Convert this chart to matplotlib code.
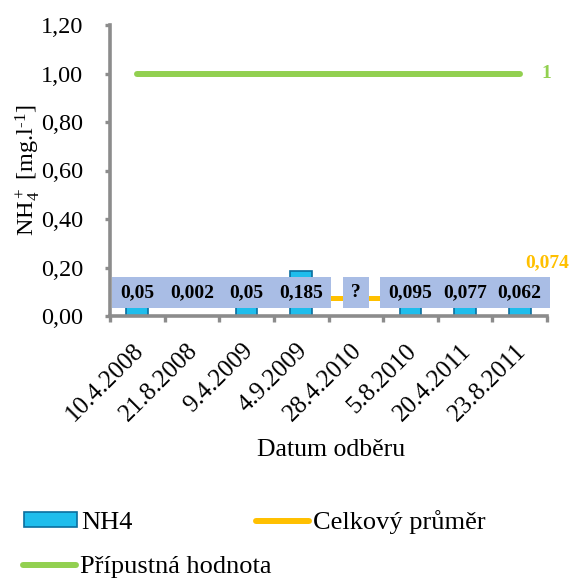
import numpy as np
import matplotlib
matplotlib.use("Agg")
import matplotlib.pyplot as plt
from matplotlib.path import Path
from matplotlib.patches import Rectangle
from matplotlib.lines import Line2D
from matplotlib.transforms import ScaledTranslation

# --- data -------------------------------------------------------------
dates = ["10.4.2008", "21.8.2008", "9.4.2009", "4.9.2009",
         "28.4.2010", "5.8.2010", "20.4.2011", "23.8.2011"]
nh4 = [0.05, 0.002, 0.05, 0.185, np.nan, 0.095, 0.077, 0.062]
value_labels = ["0,05", "0,002", "0,05", "0,185", "?", "0,095", "0,077", "0,062"]
mean_value = 0.074
mean_label = "0,074"
limit_value = 1.0
limit_label = "1"
yticks = [0.0, 0.2, 0.4, 0.6, 0.8, 1.0, 1.2]
ytick_labels = ["0,00", "0,20", "0,40", "0,60", "0,80", "1,00", "1,20"]

# --- style ------------------------------------------------------------
plt.rcParams["font.family"] = ["Liberation Serif", "DejaVu Serif"]
plt.rcParams["mathtext.fontset"] = "custom"
plt.rcParams["mathtext.rm"] = "Liberation Serif"
plt.rcParams["mathtext.it"] = "Liberation Serif:italic"
plt.rcParams["mathtext.bf"] = "Liberation Serif:bold"

GRAY = "#8C8C8C"
BAR_FACE = "#1FBDEC"
BAR_EDGE = "#0B6E9E"
BOX_FACE = "#A9BDE5"
ORANGE = "#FFC000"
GREEN = "#92D050"
PX = 72 / 100  # points per pixel at 100 dpi

fig = plt.figure(figsize=(5.69, 5.78), dpi=100)
ax = fig.add_axes([110 / 569, 1 - 316 / 578, (547 - 110) / 569, (316 - 25) / 578])

x = np.arange(len(dates))

# bars
ax.bar(x, nh4, width=0.4, color=BAR_FACE, edgecolor=BAR_EDGE, linewidth=1.2, zorder=2)

# overall mean and permissible limit
ax.plot([x[0], x[-1]], [mean_value, mean_value], color=ORANGE, lw=3.6,
        solid_capstyle="round", zorder=1.5)
ax.plot([x[0], x[-1]], [limit_value, limit_value], color=GREEN, lw=4.3,
        solid_capstyle="round", zorder=1.5)


def label_box(x0, y0, width, height, mutation_size):
    px = 0.42 * mutation_size
    py = 0.36 * mutation_size
    verts = [(x0 - px, y0 - py), (x0 + width + px, y0 - py),
             (x0 + width + px, y0 + height + py), (x0 - px, y0 + height + py),
             (x0 - px, y0 - py)]
    return Path(verts, closed=True)


for xi, lab in zip(x, value_labels):
    ax.text(xi, 0.097, lab, ha="center", va="center", fontsize=14, fontweight="bold",
            color="black", zorder=5,
            bbox=dict(boxstyle=label_box, facecolor=BOX_FACE, edgecolor="none"))

ax.annotate(limit_label, xy=(x[-1], limit_value), xytext=(27 * PX, 0),
            textcoords="offset points", ha="center", va="center",
            fontsize=14, fontweight="bold", color=GREEN)
ax.annotate(mean_label, xy=(x[-1], mean_value), xytext=(27 * PX, 35 * PX),
            textcoords="offset points", ha="center", va="center",
            fontsize=14, fontweight="bold", color=ORANGE)

# axes
ax.set_xlim(-0.5, len(dates) - 0.5)
ax.set_ylim(0, 1.2)
ax.set_yticks(yticks)
ax.set_yticklabels(ytick_labels, fontsize=17.5)
ax.set_xticks(np.arange(len(dates) + 1) - 0.5)
ax.set_xticklabels([])
ax.set_xticks(x, minor=True)
ax.set_xticklabels(dates, minor=True, rotation=45, ha="right", va="top",
                   rotation_mode="anchor", fontsize=18)
ax.tick_params(axis="x", which="minor", length=0, pad=17)
ax.tick_params(axis="x", which="major", length=4.5, width=2.4, color=GRAY)
ax.tick_params(axis="y", length=3.5, width=2.4, color=GRAY, pad=16)
for lbl in ax.get_xticklabels(minor=True):
    lbl.set_transform(lbl.get_transform() + ScaledTranslation(-5 / 100, 0, fig.dpi_scale_trans))

for side in ("top", "right"):
    ax.spines[side].set_visible(False)
for side in ("left", "bottom"):
    ax.spines[side].set_color(GRAY)
    ax.spines[side].set_linewidth(2.6)

ax.set_ylabel(r"NH$_4^+$ [mg.l$^{\text{-1}}$]", fontsize=17.5)
ax.yaxis.set_label_coords(-0.155, 0.5)
fig.text(331 / 569, 1 - 450 / 578, "Datum odběru", ha="center", va="center", fontsize=18.5)

# legend
bar_handle = Rectangle((0, 0), 1, 1, facecolor=BAR_FACE, edgecolor=BAR_EDGE, linewidth=1.2)
mean_handle = Line2D([], [], color=ORANGE, lw=4.3, solid_capstyle="round")
limit_handle = Line2D([], [], color=GREEN, lw=4.3, solid_capstyle="round")
common = dict(frameon=False, fontsize=19, handlelength=2.0, handletextpad=0.15,
              handleheight=0.45, borderpad=0, borderaxespad=0)
fig.legend([bar_handle, mean_handle], ["NH4", "Celkový průměr"], loc="center left",
           bbox_to_anchor=(24 / 569, 1 - 522 / 578), ncol=2, columnspacing=4.7, **common)
fig.legend([limit_handle], ["Přípustná hodnota"], loc="center left",
           bbox_to_anchor=(23 / 569, 1 - 567 / 578), **common)

fig.savefig("out.png", dpi=100)
